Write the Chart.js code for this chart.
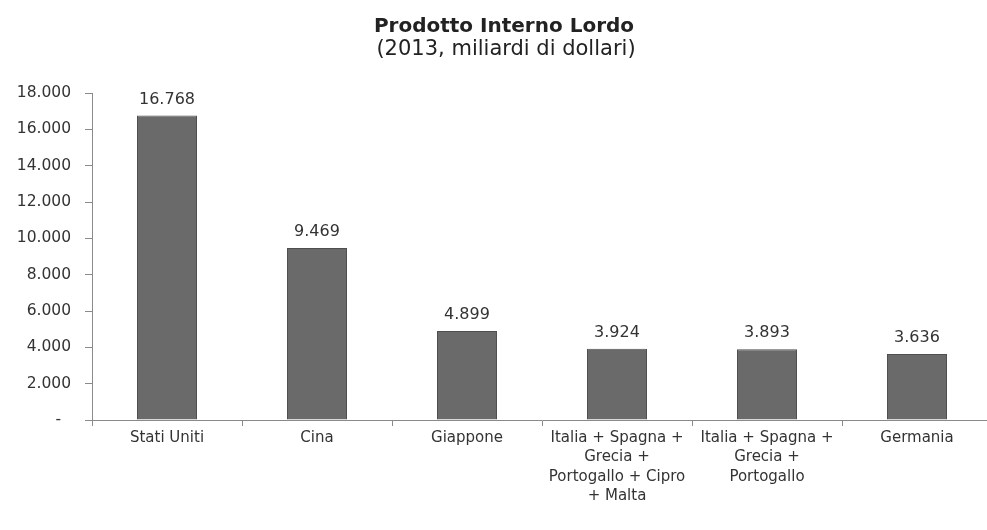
<!DOCTYPE html>
<html>
<head>
<meta charset="utf-8">
<script src="https://cdn.jsdelivr.net/npm/chart.js@4/dist/chart.umd.min.js"></script>
<style>
  html, body { margin: 0; padding: 0; background: #ffffff; overflow: hidden; }
  canvas { display: block; }
</style>
</head>
<body>
<canvas id="gdp" width="995" height="530"></canvas>
<script>
// PIL 2013, miliardi di dollari
const titleLines = ['Prodotto Interno Lordo', '(2013, miliardi di dollari)'];
const categories = [
  ['Stati Uniti'],
  ['Cina'],
  ['Giappone'],
  ['Italia + Spagna +', 'Grecia +', 'Portogallo + Cipro', '+ Malta'],
  ['Italia + Spagna +', 'Grecia +', 'Portogallo'],
  ['Germania']
];
const gdpValues = [16768, 9469, 4899, 3924, 3893, 3636];
const yTicks = [0, 2000, 4000, 6000, 8000, 10000, 12000, 14000, 16000, 18000];

const FONT = '"DejaVu Sans", Verdana, sans-serif';
const TEXT = '#333333';
const AXIS = '#8a8a8a';

// Separatore delle migliaia all'italiana
function fmt(v) {
  return String(Math.round(v)).replace(/\B(?=(\d{3})+(?!\d))/g, '.');
}

// Titolo su due righe, la prima in grassetto
const twoLineTitle = {
  id: 'twoLineTitle',
  afterDraw(chart) {
    const ctx = chart.ctx;
    ctx.save();
    ctx.fillStyle = '#222222';
    ctx.textAlign = 'center';
    ctx.textBaseline = 'middle';
    ctx.font = 'bold 20px ' + FONT;
    ctx.fillText(titleLines[0], 504, 27);
    ctx.font = '21px ' + FONT;
    ctx.fillText(titleLines[1], 506, 50);
    ctx.restore();
  }
};

// Etichette dei valori sopra le barre
const valueLabels = {
  id: 'valueLabels',
  afterDatasetsDraw(chart) {
    const ctx = chart.ctx;
    const meta = chart.getDatasetMeta(0);
    ctx.save();
    ctx.font = '16px ' + FONT;
    ctx.fillStyle = TEXT;
    ctx.textAlign = 'center';
    ctx.textBaseline = 'bottom';
    meta.data.forEach((bar, i) => {
      ctx.fillText(fmt(gdpValues[i]), bar.x, bar.y - 8);
    });
    ctx.restore();
  }
};

new Chart(document.getElementById('gdp'), {
  type: 'bar',
  data: {
    labels: categories,
    datasets: [{
      data: gdpValues,
      backgroundColor: '#6a6a6a',
      borderColor: '#4f4f4f',
      borderWidth: 1,
      categoryPercentage: 1,
      barPercentage: 0.4
    }]
  },
  options: {
    responsive: false,
    animation: false,
    layout: { padding: { top: 93, right: 3, left: 0, bottom: 0 } },
    plugins: {
      legend: { display: false },
      tooltip: { enabled: false },
      title: { display: false },
      subtitle: { display: false }
    },
    scales: {
      x: {
        grid: {
          offset: true,
          drawOnChartArea: false,
          drawTicks: true,
          tickLength: 6,
          color: AXIS
        },
        border: { color: AXIS, width: 1 },
        ticks: {
          color: TEXT,
          font: { family: FONT, size: 15, lineHeight: 1.27 },
          maxRotation: 0,
          autoSkip: false,
          padding: 3
        },
        afterFit(scale) { scale.height = 110; }
      },
      y: {
        min: 0,
        max: 18000,
        afterBuildTicks(scale) { scale.ticks = yTicks.map(v => ({ value: v })); },
        grid: {
          drawOnChartArea: false,
          drawTicks: true,
          tickLength: 7,
          color: AXIS
        },
        border: { color: AXIS, width: 1 },
        ticks: {
          color: TEXT,
          font: { family: FONT, size: 15.5 },
          padding: 14,
          callback: v => (v === 0 ? '-  ' : fmt(v))
        },
        afterFit(scale) { scale.width = 92; }
      }
    }
  },
  plugins: [valueLabels, twoLineTitle]
});
</script>
</body>
</html>
